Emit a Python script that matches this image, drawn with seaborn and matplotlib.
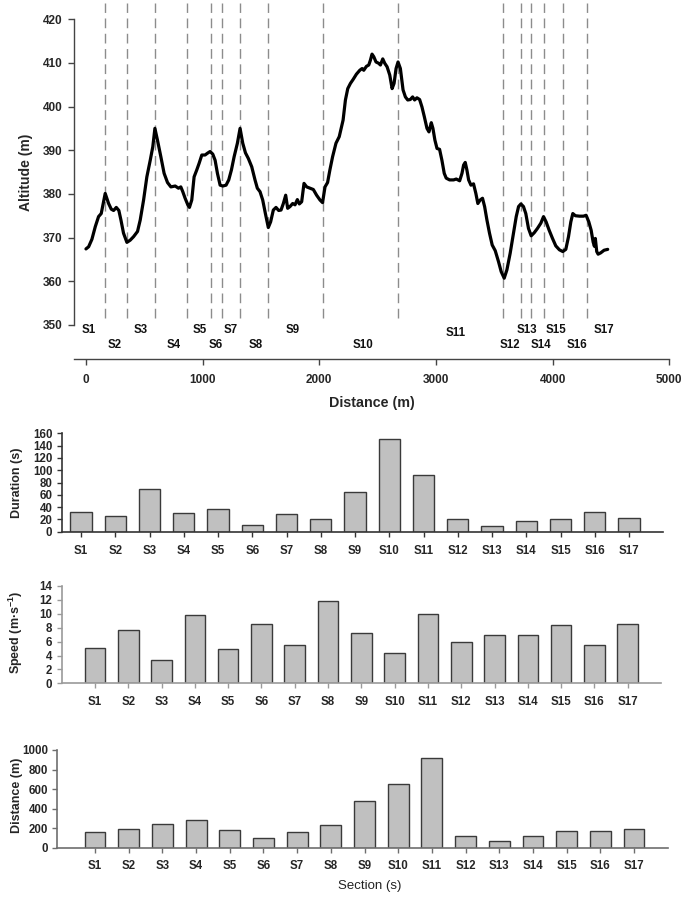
import matplotlib
matplotlib.use("Agg")
import matplotlib.pyplot as plt
import seaborn as sns
import pandas as pd

# ---------------- data ----------------
sections = [f"S{i}" for i in range(1, 18)]
duration = [32, 26, 70, 30, 37, 11, 29, 20, 65, 150, 93, 21, 10, 18, 20, 32, 23]
speed = [5.1, 7.7, 3.4, 9.8, 5.0, 8.6, 5.5, 11.8, 7.3, 4.4, 9.9, 5.9, 6.9, 6.9, 8.4, 5.5, 8.6]
section_distance = [160, 190, 240, 290, 185, 97, 160, 238, 475, 650, 920, 125, 68, 125, 170, 178, 197]

profile_distance = [0, 23, 51, 80, 108, 131, 165, 194, 217, 237, 260, 282, 300, 322, 351, 379, 408,
                    442, 465, 494, 522, 551, 573, 591, 613, 642, 670, 699, 728, 765, 793, 813, 830,
                    850, 873, 887, 907, 927, 950, 970, 993, 1021, 1041, 1064, 1087, 1107, 1127, 1150,
                    1173, 1201, 1224, 1247, 1270, 1298, 1321, 1344, 1367, 1392, 1421, 1449, 1469,
                    1492, 1515, 1538, 1563, 1583, 1606, 1629, 1652, 1672, 1692, 1712, 1729, 1749,
                    1772, 1792, 1812, 1829, 1849, 1869, 1892, 1920, 1949, 1977, 2006, 2028, 2049,
                    2071, 2091, 2114, 2143, 2171, 2191, 2204, 2224, 2244, 2267, 2290, 2318, 2347,
                    2367, 2381, 2404, 2424, 2438, 2452, 2467, 2486, 2509, 2524, 2544, 2561, 2581,
                    2604, 2624, 2641, 2658, 2675, 2695, 2718, 2738, 2758, 2780, 2800, 2817, 2837,
                    2860, 2880, 2900, 2923, 2940, 2960, 2974, 2991, 3009, 3031, 3051, 3071, 3088,
                    3117, 3151, 3174, 3203, 3223, 3237, 3251, 3265, 3280, 3300, 3322, 3342, 3359,
                    3379, 3399, 3417, 3437, 3459, 3482, 3508, 3536, 3559, 3585, 3608, 3636, 3665,
                    3688, 3708, 3728, 3750, 3770, 3793, 3816, 3842, 3870, 3899, 3922, 3944, 3970,
                    3999, 4027, 4058, 4087, 4113, 4136, 4156, 4173, 4195, 4230, 4264, 4287, 4310,
                    4330, 4347, 4358, 4366, 4378, 4390, 4412, 4441, 4472]
profile_altitude = [367.4, 367.9, 369.6, 372.5, 374.8, 375.5, 380.1, 377.8, 376.5, 376.2, 376.9, 376.2,
                    374.0, 371.0, 368.9, 369.4, 370.2, 371.4, 374.0, 378.6, 383.9, 387.7, 390.8, 395.0,
                    392.3, 388.5, 384.7, 382.6, 381.6, 381.8, 381.3, 381.6, 380.5, 379.0, 377.5, 376.9,
                    378.6, 383.9, 385.5, 387.0, 388.9, 388.9, 389.3, 389.7, 389.1, 387.7, 384.7, 382.0,
                    381.8, 382.0, 383.2, 385.5, 388.5, 391.6, 395.0, 391.6, 389.4, 388.1, 386.2, 383.2,
                    381.3, 380.5, 378.6, 375.5, 372.3, 373.6, 376.3, 376.9, 376.2, 376.3, 377.8, 379.7,
                    376.7, 377.1, 377.8, 377.5, 378.7, 377.7, 378.2, 382.4, 381.6, 381.3, 381.0, 379.7,
                    378.6, 378.0, 381.6, 382.6, 385.5, 388.5, 391.6, 393.1, 395.4, 396.9, 401.5, 404.1,
                    405.3, 406.2, 407.4, 408.3, 408.7, 408.3, 409.2, 409.5, 410.6, 412.0, 411.4, 410.2,
                    409.9, 409.5, 410.9, 409.9, 409.1, 407.2, 404.1, 405.3, 408.7, 410.2, 408.7, 403.8,
                    402.2, 401.5, 401.6, 402.2, 401.5, 402.0, 401.6, 399.9, 397.7, 395.0, 394.2, 396.3,
                    395.0, 392.3, 390.4, 390.2, 387.7, 384.7, 383.6, 383.2, 383.2, 383.4, 383.0, 384.7,
                    386.6, 387.2, 385.5, 383.2, 382.0, 382.3, 380.1, 377.8, 378.6, 379.0, 377.1, 374.0,
                    371.0, 368.3, 367.0, 364.5, 362.2, 360.7, 362.6, 366.4, 371.0, 374.8, 377.1, 377.7,
                    377.1, 375.5, 372.1, 370.4, 371.1, 372.1, 373.3, 374.8, 373.6, 371.7, 369.8, 368.1,
                    367.2, 366.8, 367.3, 370.2, 373.6, 375.5, 375.0, 374.9, 374.9, 375.1, 373.6, 371.7,
                    369.0, 368.0, 369.8, 366.8, 366.2, 366.5, 367.1, 367.3]

section_boundaries = [163, 349, 589, 868, 1069, 1163, 1322, 1557, 2034, 2671,
                      3576, 3728, 3816, 3922, 4090, 4293]
label_x = [26, 248, 471, 754, 977, 1114, 1243, 1457, 1774, 2371, 3170, 3633, 3779, 3896, 4025, 4205, 4440]
label_alt = [348.9, 345.3, 348.9, 345.3, 348.9, 345.3, 348.9, 345.3, 348.9, 345.3,
             348.2, 345.3, 348.9, 345.3, 348.9, 345.3, 348.9]

# ---------------- style ----------------
sns.set_theme(style="ticks")
plt.rcParams["font.family"] = ["Liberation Sans", "DejaVu Sans"]
plt.rcParams["mathtext.fontset"] = "custom"
plt.rcParams["mathtext.rm"] = "Liberation Sans:bold"
plt.rcParams["mathtext.bf"] = "Liberation Sans:bold"
plt.rcParams["mathtext.it"] = "Liberation Sans:bold"
plt.rcParams["mathtext.default"] = "bf"

W, H = 685, 899
fig = plt.figure(figsize=(W / 100, H / 100), dpi=100)


def rect(left, right, top, bottom):
    return [left / W, 1 - bottom / H, (right - left) / W, (bottom - top) / H]


# ---------------- altitude profile ----------------
ax = fig.add_axes(rect(73.7, 669.3, 3, 359))
prof = pd.DataFrame({"Distance": profile_distance, "Altitude": profile_altitude})
sns.lineplot(data=prof, x="Distance", y="Altitude", ax=ax, color="black", lw=2.3,
             estimator=None, sort=False)
for b in section_boundaries:
    ax.axvline(b, ymin=0.115, ymax=1, color="#8c8c8c", lw=1.0, ls=(0, (7, 4)), zorder=0)
for s, lx, la in zip(sections, label_x, label_alt):
    ax.text(lx, la, s, ha="center", va="center", fontsize=8.3, fontweight="bold", color="#111")
ax.set_xlim(-105, 5000)
ax.set_ylim(342.2, 423.7)
ax.set_yticks(range(350, 421, 10))
ax.set_xticks(range(0, 5001, 1000))
ax.spines[["top", "right"]].set_visible(False)
ax.spines["left"].set_bounds(350, 420)
for sp in ("left", "bottom"):
    ax.spines[sp].set_color("#444")
    ax.spines[sp].set_linewidth(1.0)
ax.tick_params(axis="both", direction="out", length=4, width=1, color="#444",
               labelsize=8.5, pad=4)
ax.tick_params(axis="x", pad=7)
for t in ax.get_xticklabels() + ax.get_yticklabels():
    t.set_fontweight("bold")
ax.set_ylabel("Altitude (m)", fontsize=10, fontweight="bold", va="center")
ax.yaxis.set_label_coords(-0.080, 0.525)
ax.set_xlabel("Distance (m)", fontsize=10.3, fontweight="bold", va="top")
ax.xaxis.set_label_coords(0.5, -0.104)


# ---------------- bar panels ----------------
def bar_panel(r, values, xlim, ylim, yticks, ylabel, lab_xy, spine_col, pad):
    a = fig.add_axes(r)
    sns.barplot(x=sections, y=values, ax=a, color="#c0c0c0", edgecolor="#3a3a3a",
                linewidth=1.0, width=0.62, saturation=1)
    a.set_xlim(*xlim)
    a.set_ylim(*ylim)
    a.set_yticks(yticks)
    a.spines[["top", "right"]].set_visible(False)
    for sp in ("left", "bottom"):
        a.spines[sp].set_color(spine_col)
        a.spines[sp].set_linewidth(1.2)
    a.tick_params(axis="both", direction="out", length=3.3, width=1, color=spine_col,
                  labelsize=8.3, pad=3.5)
    a.tick_params(axis="x", pad=pad)
    for t in a.get_xticklabels() + a.get_yticklabels():
        t.set_fontweight("bold")
    a.set_ylabel(ylabel, fontsize=9, fontweight="bold", va="center")
    a.yaxis.set_label_coords(*lab_xy)
    a.set_xlabel("")
    return a


bar_panel(rect(61.7, 663.3, 433.3, 531.7), duration, (-0.564, 17.0), (0, 160),
          range(0, 161, 20), "Duration (s)", (-0.0738, 0.5), "#333333", 6)
bar_panel(rect(61.7, 661.0, 586.0, 683.3), speed, (-1.0, 17.0), (0, 14),
          range(0, 15, 2), "Speed (m·s$^{-1}$)", (-0.0763, 0.522), "#9a9a9a", 6)
bar_panel(rect(57.3, 667.7, 750.0, 848.0), section_distance, (-1.12, 17.0), (0, 1000),
          range(0, 1001, 200), "Distance (m)", (-0.0655, 0.541), "#6e6e6e", 5)

fig.text(370 / W, 1 - 886 / H, "Section (s)", ha="center", va="center", fontsize=9.5,
         color="#222")

fig.savefig("out.png", dpi=100)
